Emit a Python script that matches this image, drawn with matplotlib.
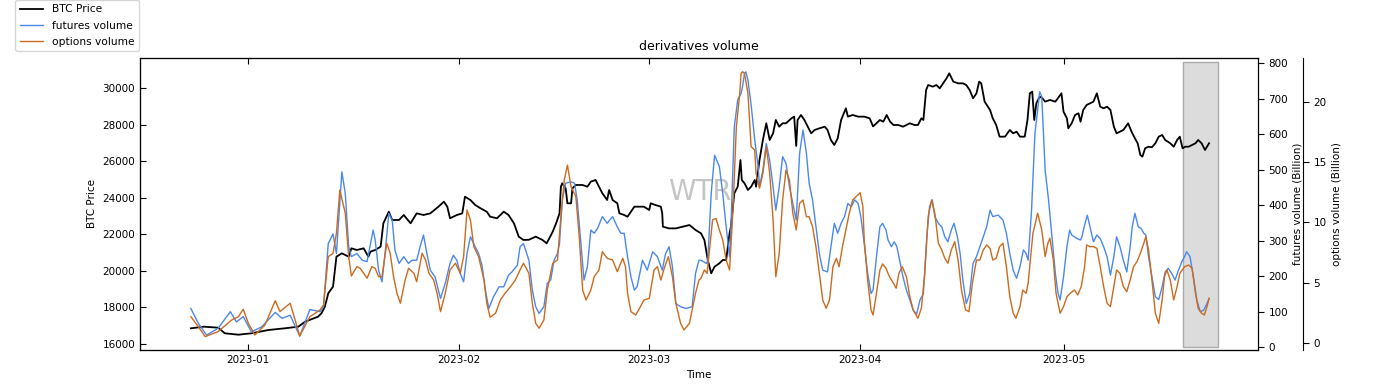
#!/usr/bin/env python3
# coding=utf-8

import matplotlib
matplotlib.use('Agg')
import matplotlib.pyplot as plt
import matplotlib.dates as mdates
import pandas as pd

plt.rcParams['font.family'] = ['DejaVu Sans']
plt.rcParams['font.size'] = 7.5

# days counted from 2023-01-01
price_days = [-8.4, -6.5, -4.4, -3.4, -1.4, 0.5, 3.0, 5.4, 7.4, 8.4, 10.3, 10.8, 11.3, 11.8, 12.5, 13.0,
              13.8, 14.8, 15.2, 16.0, 17.0, 17.7, 18.0, 18.7, 19.5, 19.9, 20.7, 21.2, 22.2, 22.9, 23.9,
              24.8, 25.8, 26.8, 28.0, 28.8, 29.3, 29.7, 30.7, 31.5, 31.9, 32.7, 33.4, 34.2, 35.1, 35.6,
              36.6, 37.6, 38.3, 39.1, 39.8, 40.5, 41.3, 42.3, 43.3, 43.9, 44.3, 44.8, 45.3, 45.8, 46.0,
              46.2, 46.7, 46.96, 47.5, 47.7, 48.2, 49.2, 49.9, 50.4, 51.1, 51.6, 52.1, 52.8, 53.1, 53.6,
              54.3, 54.6, 55.3, 55.8, 56.3, 56.8, 57.5, 58.2, 59.0, 59.2, 59.9, 60.7, 60.9, 61.0, 61.9,
              62.9, 63.9, 64.9, 65.8, 66.6, 67.1, 67.6, 68.1, 68.6, 69.3, 69.8, 70.3, 70.8, 71.0, 71.5,
              72.0, 72.4, 72.6, 73.0, 73.5, 73.97, 74.5, 74.7, 75.2, 75.7, 76.2, 76.7, 77.2, 77.6, 78.1,
              78.6, 79.1, 79.9, 80.3, 80.6, 80.8, 81.3, 81.8, 82.3, 82.8, 83.3, 84.0, 84.8, 85.2, 85.7,
              86.2, 86.7, 87.2, 87.9, 88.2, 88.9, 89.7, 90.6, 91.4, 91.9, 92.4, 92.9, 93.4, 93.9, 94.4,
              94.9, 95.6, 96.3, 97.3, 98.0, 98.5, 99.0, 99.3, 99.7, 100.0, 100.7, 101.2, 101.7, 102.2,
              102.7, 103.1, 103.7, 104.4, 105.1, 105.6, 106.1, 106.6, 107.1, 107.5, 107.8, 108.3, 109.1,
              109.5, 110.0, 110.5, 111.3, 112.0, 112.5, 113.0, 113.5, 114.2, 114.6, 114.95, 115.3, 115.6,
              115.9, 116.4, 116.8, 117.2, 117.9, 118.7, 119.6, 119.9, 120.4, 120.6, 121.1, 121.6, 122.1,
              122.4, 122.8, 123.3, 123.8, 124.3, 124.8, 125.3, 125.8, 126.3, 126.8, 127.3, 127.7, 128.2,
              128.7, 129.4, 129.9, 130.4, 130.8, 131.2, 131.5, 131.9, 132.4, 132.9, 133.4, 133.9, 134.4,
              134.85, 135.6, 136.1, 136.6, 137.0, 137.4, 137.8, 138.3, 138.8, 139.3, 139.7, 140.2, 140.7,
              141.0, 141.3]
price_vals = [16857, 16946, 16893, 16584, 16508, 16584, 16765, 16857, 16946, 17220, 17494, 17678, 18040,
              18771, 19135, 20775, 20958, 20775, 21232, 21140, 21232, 20775, 21048, 21140, 21323, 22600,
              23235, 22781, 22781, 23054, 22600, 23144, 23054, 23144, 23509, 23782, 23509, 22874, 23054,
              23144, 24056, 23874, 23601, 23418, 23235, 22962, 22874, 23235, 23054, 22600, 21871, 21688,
              21700, 21871, 21688, 21506, 21780, 22141, 22600, 23144, 24602, 24788, 24515, 23694, 23694,
              24515, 24695, 24695, 24602, 24876, 24969, 24602, 24241, 23874, 24422, 23874, 23694, 23144,
              23054, 22962, 23235, 23509, 23509, 23509, 23327, 23694, 23601, 23509, 23144, 22414, 22322,
              22322, 22414, 22506, 22234, 22054, 21688, 20593, 19866, 20228, 20411, 20593, 20593, 22054,
              22414, 24241, 24602, 26062, 24969, 24788, 24422, 24602, 24969, 24602, 26062, 27156, 28069,
              27156, 27521, 28250, 27884, 28069, 28069, 28342, 28433, 26828, 28250, 28524, 28250, 27884,
              27521, 27703, 27794, 27884, 27703, 27156, 26883, 27247, 28250, 28888, 28433, 28524, 28433,
              28433, 28342, 27900, 28069, 28250, 28157, 28524, 28157, 27976, 27976, 27884, 28069, 27976,
              27976, 28342, 28250, 29891, 30164, 30073, 30164, 29982, 30255, 30529, 30802, 30346, 30255,
              30255, 30164, 29891, 29436, 29708, 30346, 30255, 29253, 28797, 28342, 27976, 27338, 27338,
              27703, 27521, 27612, 27338, 27338, 28250, 29708, 29800, 28250, 29162, 29526, 29436, 29253,
              29344, 29253, 29708, 28706, 28342, 27796, 28069, 28524, 28616, 28157, 28797, 29070, 29162,
              29253, 29708, 28977, 28890, 28977, 28797, 27884, 27521, 27612, 27703, 28069, 27612, 27247,
              26976, 26336, 26243, 26702, 26790, 26757, 26976, 27338, 27430, 27156, 26976, 26790, 27156,
              27338, 26702, 26790, 26790, 26883, 26976, 27156, 26976, 26609, 26790, 26976]

fut_days = [-8.4, -7.3, -6.1, -4.4, -2.6, -1.7, -0.7, 0.5, 2.0, 4.0, 5.0, 6.2, 7.6, 9.1, 10.6, 11.1, 11.8,
            12.5, 13.0, 13.8, 14.3, 14.8, 15.2, 16.0, 16.8, 17.5, 18.4, 18.7, 19.2, 19.7, 20.2, 20.7, 21.2,
            21.6, 22.2, 22.9, 23.6, 24.1, 24.8, 25.3, 25.8, 26.3, 26.8, 27.5, 28.3, 29.0, 29.7, 30.2, 30.7,
            31.2, 31.7, 32.2, 32.7, 33.4, 33.9, 34.4, 34.9, 35.4, 36.1, 36.9, 37.6, 38.3, 38.8, 39.6, 40.0,
            40.5, 41.3, 41.8, 42.3, 42.8, 43.5, 44.0, 44.5, 45.0, 45.5, 45.8, 46.2, 46.7, 47.5, 48.0, 48.4,
            48.9, 49.4, 49.9, 50.4, 50.9, 51.4, 52.1, 52.8, 53.6, 54.3, 54.8, 55.3, 55.8, 56.3, 56.8, 57.2,
            58.0, 58.7, 59.5, 60.2, 60.9, 61.4, 61.9, 62.4, 62.9, 63.6, 64.4, 65.3, 65.8, 66.3, 66.6, 67.4,
            67.6, 68.1, 68.6, 69.1, 69.3, 69.8, 70.3, 70.8, 71.0, 71.5, 72.0, 72.5, 72.7, 73.0, 73.2, 73.5,
            74.0, 74.5, 75.0, 75.2, 75.7, 76.2, 76.7, 77.2, 77.6, 78.1, 78.6, 79.1, 79.6, 80.1, 80.6, 81.1,
            81.6, 82.1, 82.5, 83.0, 83.5, 84.0, 84.5, 85.2, 85.7, 86.2, 86.7, 87.2, 87.7, 88.2, 88.7, 89.2,
            89.7, 90.1, 90.6, 91.1, 91.6, 91.9, 92.4, 92.9, 93.3, 93.8, 94.1, 94.6, 95.0, 95.4, 95.8, 96.3,
            96.8, 97.3, 97.8, 98.3, 98.8, 99.3, 99.8, 100.2, 100.6, 100.98, 101.5, 102.0, 102.45, 102.9,
            103.4, 103.8, 104.3, 104.7, 105.1, 105.6, 106.1, 106.6, 107.1, 107.6, 108.1, 108.6, 109.1,
            109.5, 110.3, 111.0, 111.5, 112.0, 112.5, 113.0, 113.5, 114.0, 114.4, 114.7, 115.2, 115.7,
            116.2, 116.4, 116.7, 116.9, 117.2, 117.7, 118.2, 118.7, 119.1, 119.4, 119.9, 120.4, 120.8,
            121.1, 121.5, 121.9, 122.4, 122.6, 123.0, 123.4, 123.8, 124.3, 124.8, 125.3, 125.8, 126.3,
            126.8, 127.3, 127.7, 128.2, 128.7, 129.2, 129.7, 130.0, 130.4, 130.9, 131.3, 131.7, 132.0,
            132.4, 132.9, 133.4, 133.9, 134.4, 134.85, 135.3, 135.8, 136.3, 136.8, 137.3, 137.7, 138.0,
            138.5, 139.0, 139.5, 140.0, 140.5, 141.0, 141.3]
fut_vals = [109, 67, 34, 53, 100, 71, 86, 43, 57, 98, 81, 90, 31, 106, 100, 114, 292, 319, 264, 494, 433,
            283, 255, 264, 245, 241, 330, 302, 217, 184, 274, 377, 358, 274, 236, 255, 236, 245, 245, 283,
            316, 264, 217, 198, 137, 180, 236, 259, 245, 208, 184, 264, 311, 283, 264, 231, 161, 109, 142,
            170, 170, 203, 212, 231, 283, 292, 245, 161, 114, 95, 114, 180, 189, 245, 264, 292, 415, 462,
            466, 462, 415, 302, 189, 227, 330, 321, 335, 368, 349, 368, 339, 321, 321, 255, 198, 161, 170,
            245, 217, 269, 255, 217, 264, 283, 227, 123, 114, 109, 114, 208, 245, 245, 236, 245, 433, 541,
            518, 509, 433, 339, 255, 339, 621, 697, 715, 734, 772, 776, 753, 678, 584, 509, 452, 499, 574,
            527, 452, 386, 452, 537, 518, 452, 405, 358, 546, 612, 546, 462, 415, 339, 264, 217, 212, 283,
            349, 321, 349, 368, 405, 396, 415, 405, 368, 292, 208, 151, 161, 255, 339, 349, 330, 302, 283,
            297, 283, 245, 198, 161, 133, 104, 93, 133, 151, 311, 396, 415, 368, 349, 339, 311, 297, 330,
            349, 311, 264, 189, 123, 151, 236, 255, 283, 311, 339, 386, 368, 372, 358, 321, 264, 217, 194,
            227, 274, 264, 245, 386, 603, 687, 720, 706, 621, 499, 415, 311, 208, 151, 133, 198, 283, 330,
            316, 311, 306, 302, 311, 344, 372, 339, 297, 316, 306, 283, 255, 203, 255, 311, 283, 245, 212,
            283, 339, 377, 339, 335, 321, 316, 255, 198, 142, 134, 170, 212, 222, 208, 189, 217, 241, 255,
            269, 255, 198, 133, 100, 104, 123, 137]

opt_days = [-8.4, -7.3, -6.3, -4.4, -2.4, -1.4, -0.7, 0.05, 1.0, 2.5, 4.0, 4.7, 6.2, 7.6, 9.1, 10.6, 11.1,
            11.8, 12.5, 13.0, 13.5, 14.3, 14.8, 15.2, 16.0, 16.5, 17.5, 18.2, 18.7, 19.2, 19.7, 20.4, 20.9,
            21.4, 21.9, 22.4, 23.1, 23.6, 24.4, 24.8, 25.6, 26.1, 26.6, 27.3, 27.8, 28.3, 29.0, 29.7, 30.5,
            31.2, 31.7, 32.2, 32.7, 33.2, 33.9, 34.7, 35.1, 35.6, 36.4, 37.1, 37.8, 38.6, 39.3, 40.0, 40.5,
            41.3, 41.8, 42.3, 42.8, 43.5, 44.0, 44.8, 45.5, 46.0, 46.5, 46.96, 47.5, 48.2, 48.7, 49.2, 49.7,
            50.4, 50.9, 51.6, 52.1, 52.8, 53.6, 54.3, 55.1, 55.5, 55.8, 56.3, 57.0, 57.7, 58.2, 59.0, 59.7,
            60.2, 60.7, 61.2, 61.8, 62.4, 62.9, 63.6, 64.1, 64.9, 65.3, 65.8, 66.3, 66.6, 67.1, 67.5, 67.9,
            68.3, 68.8, 69.3, 69.8, 70.3, 70.8, 71.3, 71.8, 72.3, 72.5, 72.7, 73.0, 73.5, 73.97, 74.5, 74.7,
            75.2, 75.7, 76.2, 76.7, 77.2, 77.6, 78.1, 78.6, 79.1, 79.6, 80.1, 80.6, 81.1, 81.6, 82.1, 82.5,
            83.0, 83.5, 84.0, 84.5, 85.0, 85.5, 86.0, 86.5, 86.9, 87.4, 87.9, 88.4, 88.9, 89.4, 90.0, 90.4,
            90.6, 91.1, 91.6, 91.9, 92.4, 92.9, 93.3, 93.8, 94.3, 94.9, 95.3, 95.7, 96.2, 96.8, 97.3, 97.8,
            98.5, 99.0, 99.5, 100.0, 100.5, 100.98, 101.5, 102.0, 102.45, 102.9, 103.4, 103.9, 104.4, 104.9,
            105.5, 106.0, 106.5, 107.1, 107.6, 108.1, 108.6, 109.1, 109.5, 110.0, 110.5, 111.0, 111.5,
            112.0, 112.5, 112.9, 113.5, 113.9, 114.4, 114.7, 115.4, 116.1, 116.7, 117.2, 117.6, 117.9,
            118.4, 118.8, 119.4, 119.9, 120.4, 120.9, 121.5, 122.0, 122.5, 123.0, 123.3, 123.8, 124.3,
            124.8, 125.3, 125.8, 126.3, 126.8, 127.3, 127.7, 128.2, 128.7, 129.2, 129.7, 130.2, 130.7,
            131.2, 131.7, 132.0, 132.4, 132.9, 133.4, 133.9, 134.4, 134.75, 135.1, 135.6, 136.1, 136.6,
            137.0, 137.7, 138.3, 138.8, 139.3, 139.7, 140.2, 140.6, 141.0, 141.3]
opt_vals = [2.16, 1.33, 0.50, 0.92, 1.89, 2.16, 2.78, 1.61, 0.64, 1.47, 3.49, 2.58, 3.28, 0.56, 2.16, 2.72,
            3.14, 7.16, 7.43, 9.10, 12.70, 10.77, 7.16, 5.55, 6.32, 6.19, 5.36, 6.32, 6.19, 5.49, 5.49, 8.27,
            7.44, 5.49, 4.11, 3.28, 5.21, 6.19, 5.77, 5.07, 7.44, 6.88, 5.77, 5.21, 4.11, 2.58, 4.11, 6.05,
            6.61, 5.77, 7.16, 11.04, 10.21, 7.99, 7.16, 5.21, 3.28, 2.11, 2.45, 3.55, 4.11, 4.66, 5.21, 6.05,
            6.61, 5.77, 3.28, 1.61, 1.20, 1.89, 4.38, 6.61, 6.88, 10.48, 13.54, 14.78, 12.98, 12.15, 8.82,
            4.38, 3.55, 4.38, 5.49, 6.05, 7.57, 7.02, 6.88, 5.91, 7.02, 6.32, 4.11, 2.58, 2.30, 3.00, 3.55,
            3.69, 6.05, 6.32, 5.21, 6.19, 7.16, 5.49, 3.28, 1.61, 1.06, 1.61, 2.72, 4.11, 5.21, 5.36, 6.05,
            5.77, 7.99, 10.21, 10.35, 9.38, 8.54, 6.88, 6.05, 11.04, 17.97, 20.75, 22.41, 22.55, 22.41,
            20.75, 16.31, 16.03, 14.09, 12.85, 14.09, 16.31, 14.09, 10.21, 5.49, 7.44, 11.87, 14.37, 13.54,
            10.77, 9.38, 11.60, 11.87, 10.48, 10.48, 9.65, 7.99, 5.77, 3.55, 2.86, 3.55, 6.32, 7.02, 6.32,
            7.99, 9.38, 10.77, 11.87, 12.15, 12.48, 11.32, 8.54, 5.21, 2.72, 2.30, 4.11, 6.05, 6.55, 6.19,
            5.49, 4.94, 4.53, 5.77, 6.32, 5.49, 3.83, 2.72, 2.03, 2.86, 5.77, 10.48, 11.87, 10.77, 8.27,
            7.71, 7.02, 6.61, 7.71, 8.40, 6.88, 4.38, 2.72, 2.58, 4.94, 6.88, 6.88, 7.71, 8.13, 7.85, 6.88,
            7.02, 7.99, 8.27, 6.32, 3.83, 2.45, 2.03, 3.00, 4.38, 4.11, 4.94, 9.10, 10.77, 9.38, 7.16, 8.27,
            8.69, 6.88, 4.11, 2.45, 3.00, 3.83, 4.11, 4.38, 3.97, 4.66, 6.32, 8.13, 7.99, 7.99, 7.85, 6.32,
            4.66, 3.28, 3.00, 4.66, 6.05, 5.77, 4.66, 4.24, 5.21, 6.32, 6.74, 7.44, 8.27, 8.82, 7.71, 5.21,
            2.45, 1.61, 3.55, 5.49, 6.05, 5.21, 3.55, 4.66, 5.77, 6.32, 6.46, 6.19, 4.11, 2.86, 2.45, 2.30,
            3.00, 3.69]

span_days = [137.5, 142.6]

base = pd.Timestamp('2023-01-01')


def to_dates(days):
    return base + pd.to_timedelta(days, unit='D')


fig = plt.figure(figsize=(14, 3.89), dpi=100)
ax = fig.add_axes([0.1, 0.1003, 0.7986, 0.7506])
ax_f = ax.twinx()
ax_o = ax.twinx()
# 45 px outward at dpi 100
ax_o.spines['right'].set_position(('outward', 32.4))

t0, t1 = to_dates(span_days)
ax.axvspan(t0, t1, ymin=0.01, ymax=0.986, facecolor='#dcdcdc', edgecolor='#aaaaaa', lw=1, zorder=0)

l1, = ax.plot(to_dates(price_days), price_vals, color='black', lw=1.3, label='BTC Price', zorder=3)
l2, = ax_f.plot(to_dates(fut_days), fut_vals, color='#4a88ee', lw=1.0, label='futures volume')
l3, = ax_o.plot(to_dates(opt_days), opt_vals, color='#cc6a1d', lw=1.0, label='options volume')

ax.set_xlim(to_dates([-15.88, 148.5]))
ax.set_ylim(15672, 31640)
ax_f.set_ylim(-8, 815)
ax_o.set_ylim(-0.61, 23.69)

ax.set_yticks(range(16000, 30001, 2000))
ax_f.set_yticks(range(0, 801, 100))
ax_o.set_yticks([0, 5, 10, 15, 20])

ax.xaxis.set_major_locator(mdates.MonthLocator())
ax.xaxis.set_major_formatter(mdates.DateFormatter('%Y-%m'))
ax.tick_params(direction='in', top=True, length=4)
ax_f.tick_params(length=4)
ax_o.tick_params(length=4)

ax.set_xlabel('Time')
ax.set_ylabel('BTC Price')
ax_f.set_ylabel('futures volume (Billion)', labelpad=3)
ax_o.set_ylabel('options volume (Billion)')
ax.set_title('derivatives volume', fontsize=9)

fig.text(0.5, 0.506, 'WTR', fontsize=20, color='gray', alpha=0.45, ha='center', va='center')

fig.legend(handles=[l1, l2, l3], loc='upper left', bbox_to_anchor=(0.011, 1.0), borderaxespad=0,
           fontsize=7.7, labelspacing=0.6, handlelength=2.2)

fig.savefig('out.png', dpi=100)
